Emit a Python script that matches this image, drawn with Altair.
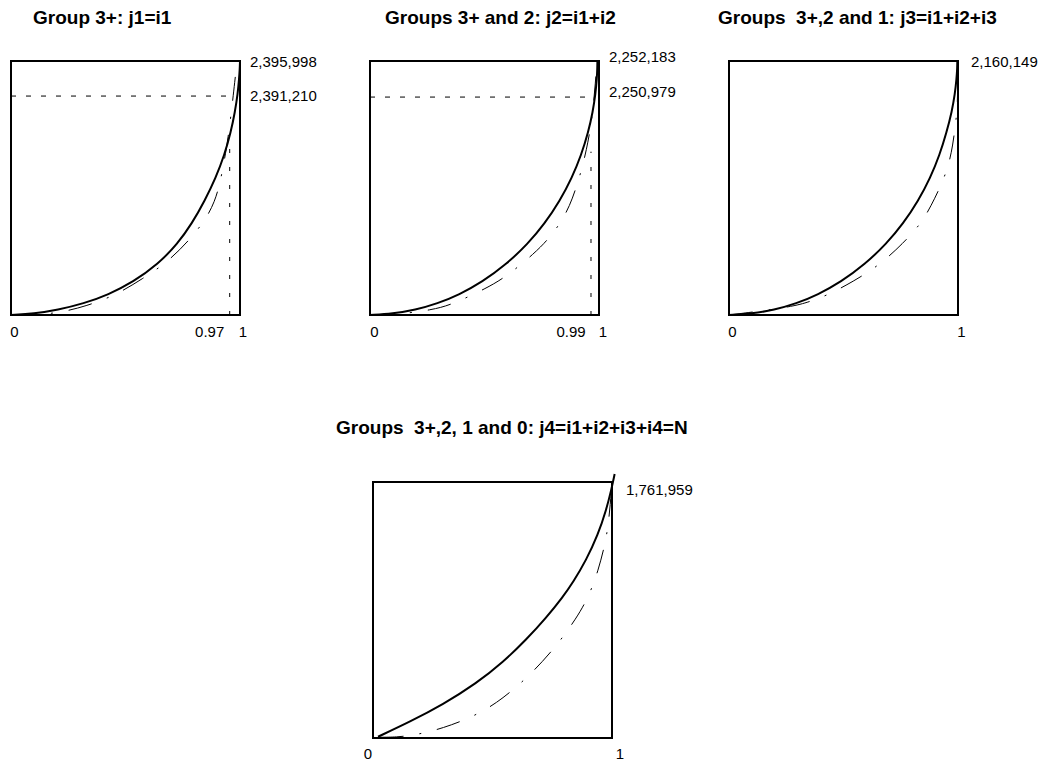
import altair as alt
import pandas as pd

FONT = "Liberation Sans"

# ---------------- data (shares of each panel's box) ----------------
titles = [
    "Group 3+: j1=i1",
    "Groups 3+ and 2: j2=i1+i2",
    "Groups\u00a0 3+,2 and 1: j3=i1+i2+i3",
    "Groups\u00a0 3+,2, 1 and 0: j4=i1+i2+i3+i4=N",
]

# solid-curve heights shared by panels 1-3 (share of box height)
solid_y_grid = [0, 0.005, 0.02, 0.045, 0.08, 0.13, 0.2, 0.28, 0.36, 0.45, 0.54, 0.63, 0.72, 0.8, 0.87, 0.93, 0.97, 1.0]

solid_x1 = [0, 0.1, 0.204, 0.317, 0.425, 0.533, 0.642, 0.727, 0.79, 0.846, 0.894, 0.932, 0.96, 0.978, 0.99, 0.996, 0.999, 1.0]
dash_x1 = [0, 0.1, 0.213, 0.329, 0.46, 0.576, 0.678, 0.78, 0.853, 0.889, 0.911, 0.93, 0.948, 0.966, 0.977, 0.987, 0.99]
dash_y1 = [0, 0.0, 0.009, 0.035, 0.079, 0.144, 0.204, 0.295, 0.38, 0.446, 0.512, 0.60, 0.696, 0.827, 0.918, 0.997, 1.0]

solid_x2 = [0, 0.0992, 0.1976, 0.2945, 0.3892, 0.4896, 0.5958, 0.6891, 0.763, 0.8293, 0.8817, 0.9225, 0.9533, 0.9729, 0.9846, 0.9906, 0.9926, 0.993]
dash_x2 = [0, 0.1, 0.275, 0.362, 0.508, 0.595, 0.719, 0.785, 0.835, 0.872, 0.9, 0.925, 0.945, 0.962, 0.975, 0.984, 0.991]
dash_y2 = [0, 0.0, 0.02, 0.043, 0.105, 0.151, 0.243, 0.305, 0.367, 0.43, 0.5, 0.575, 0.65, 0.73, 0.82, 0.91, 1.0]

solid_x3 = [0, 0.0989, 0.197, 0.2936, 0.388, 0.4882, 0.594, 0.687, 0.7607, 0.8268, 0.879, 0.9197, 0.9504, 0.973, 0.9865, 0.9936, 0.9966, 0.997]
dash_x3 = [0, 0.265, 0.352, 0.432, 0.541, 0.658, 0.76, 0.84, 0.884, 0.92, 0.956, 0.978, 0.99, 0.998, 1.0]
dash_y3 = [0, 0.03, 0.052, 0.079, 0.131, 0.197, 0.282, 0.361, 0.433, 0.499, 0.578, 0.669, 0.761, 0.82, 1.0]

solid_x4 = [0.021, 0.154, 0.293, 0.432, 0.544, 0.641, 0.725, 0.795, 0.837, 0.892, 0.941, 0.976, 0.997, 1.011]
solid_y4 = [0.005, 0.063, 0.131, 0.213, 0.296, 0.384, 0.47, 0.552, 0.608, 0.695, 0.793, 0.891, 0.969, 1.031]
dash_x4 = [0.028, 0.096, 0.181, 0.293, 0.418, 0.516, 0.62, 0.711, 0.788, 0.851, 0.886, 0.913, 0.941, 0.969, 0.983, 0.993, 1.0]
dash_y4 = [0.003, 0.003, 0.012, 0.038, 0.083, 0.135, 0.214, 0.299, 0.385, 0.469, 0.525, 0.579, 0.651, 0.749, 0.823, 0.912, 1.0]

value_labels = [["2,395,998", "2,391,210"], ["2,252,183", "2,250,979"], ["2,160,149"], ["1,761,959"]]
value_levels = [[1.0, 0.862], [1.0, 0.858], [1.0], [1.0]]

tick_labels = [["0", "0.97", "1"], ["0", "0.99", "1"], ["0", "1"], ["0", "1"]]
tick_positions = [[0, 0.955, 1], [0, 0.965, 1], [0, 1], [0, 1]]

# guide lines: horizontal level / end, vertical position / top
guide_level = [0.862, 0.858]
guide_h_end = [0.969, 0.974]
guide_v_x = [0.955, 0.965]
guide_v_top = [0.69, 0.643]

solids = [(solid_x1, solid_y_grid), (solid_x2, solid_y_grid), (solid_x3, solid_y_grid), (solid_x4, solid_y4)]
dashes = [(dash_x1, dash_y1), (dash_x2, dash_y2), (dash_x3, dash_y3), (dash_x4, dash_y4)]

# ---------------- styling / layout (pixels) ----------------
panel_w = [229, 229, 229, 239]
panel_h = [254, 254, 254, 256]
title_dx = [22, 15, -11, -37]
title_offset = [27, 22, 27, 32]
value_dx = [[10, 10], [10, 10], [13], [14]]
value_dy = [[1, 0], [-4, -5], [1], [8]]
tick_dx = [[3.5, -20, 3], [4.5, -20, 4], [3.5, 3.5], [-5, 8]]
tick_dy = [17, 17, 17, 16]


def scale():
    return alt.Scale(domain=[0, 1], nice=False, zero=False)


def panel(i):
    X = alt.X("x:Q", scale=scale(), axis=None)
    Y = alt.Y("y:Q", scale=scale(), axis=None)
    layers = []
    box = alt.Chart(pd.DataFrame({"x": [0], "x2": [1], "y": [0], "y2": [1]})).mark_rect(
        fillOpacity=0, stroke="black", strokeWidth=2
    ).encode(x=X, x2="x2:Q", y=Y, y2="y2:Q")
    layers.append(box)

    if i < 2:
        hdf = pd.DataFrame({"x": [0], "x2": [guide_h_end[i]], "y": [guide_level[i]]})
        layers.append(
            alt.Chart(hdf).mark_rule(color="black", strokeWidth=1, strokeDash=[5, 10]).encode(x=X, x2="x2:Q", y=Y)
        )
        vdf = pd.DataFrame({"x": [guide_v_x[i]], "y": [0], "y2": [guide_v_top[i]]})
        layers.append(
            alt.Chart(vdf).mark_rule(color="black", strokeWidth=1, strokeDash=[4, 14]).encode(x=X, y=Y, y2="y2:Q")
        )

    dx_, dy_ = dashes[i]
    layers.append(
        alt.Chart(pd.DataFrame({"x": dx_, "y": dy_})).mark_line(
            color="black", strokeWidth=1, strokeDash=[24, 16, 2, 16], interpolate="basis"
        ).encode(x=X, y=Y, order="x:Q")
    )
    sx, sy = solids[i]
    layers.append(
        alt.Chart(pd.DataFrame({"x": sx, "y": sy})).mark_line(
            color="black", strokeWidth=2, interpolate="basis"
        ).encode(x=X, y=Y, order="y:Q")
    )

    for t, lv, ddx, ddy in zip(value_labels[i], value_levels[i], value_dx[i], value_dy[i]):
        layers.append(
            alt.Chart(pd.DataFrame({"x": [1.0], "y": [lv], "t": [t]})).mark_text(
                align="left", baseline="middle", dx=ddx, dy=ddy, fontSize=15, font=FONT, color="black"
            ).encode(x=X, y=Y, text="t:N")
        )
    for t, p, ddx in zip(tick_labels[i], tick_positions[i], tick_dx[i]):
        layers.append(
            alt.Chart(pd.DataFrame({"x": [p], "y": [0.0], "t": [t]})).mark_text(
                align="center", baseline="middle", dx=ddx, dy=tick_dy[i], fontSize=15, font=FONT, color="black"
            ).encode(x=X, y=Y, text="t:N")
        )

    return alt.layer(*layers).properties(
        width=panel_w[i],
        height=panel_h[i],
        title=alt.TitleParams(
            text=titles[i], anchor="start", frame="group", dx=title_dx[i], offset=title_offset[i],
            fontSize=19, fontWeight="bold", font=FONT, color="black", limit=800,
        ),
    )


spacer = alt.Chart(pd.DataFrame({"x": [0.5], "y": [0.5]})).mark_point(size=0, opacity=0, strokeWidth=0).encode(
    x=alt.X("x:Q", axis=None, scale=scale()), y=alt.Y("y:Q", axis=None, scale=scale())
).properties(width=362, height=256)

top = alt.hconcat(panel(0), panel(1), panel(2), spacing=130, bounds="flush")
bottom = alt.hconcat(spacer, panel(3), spacing=0, bounds="flush")

chart = alt.vconcat(top, bottom, spacing=421, bounds="flush").properties(
    padding={"top": 1, "left": -1, "right": 0, "bottom": 0}, background="white"
).configure_view(strokeWidth=0, strokeOpacity=0)

chart.save("out.html", embed_options={"renderer": "svg", "actions": False})
